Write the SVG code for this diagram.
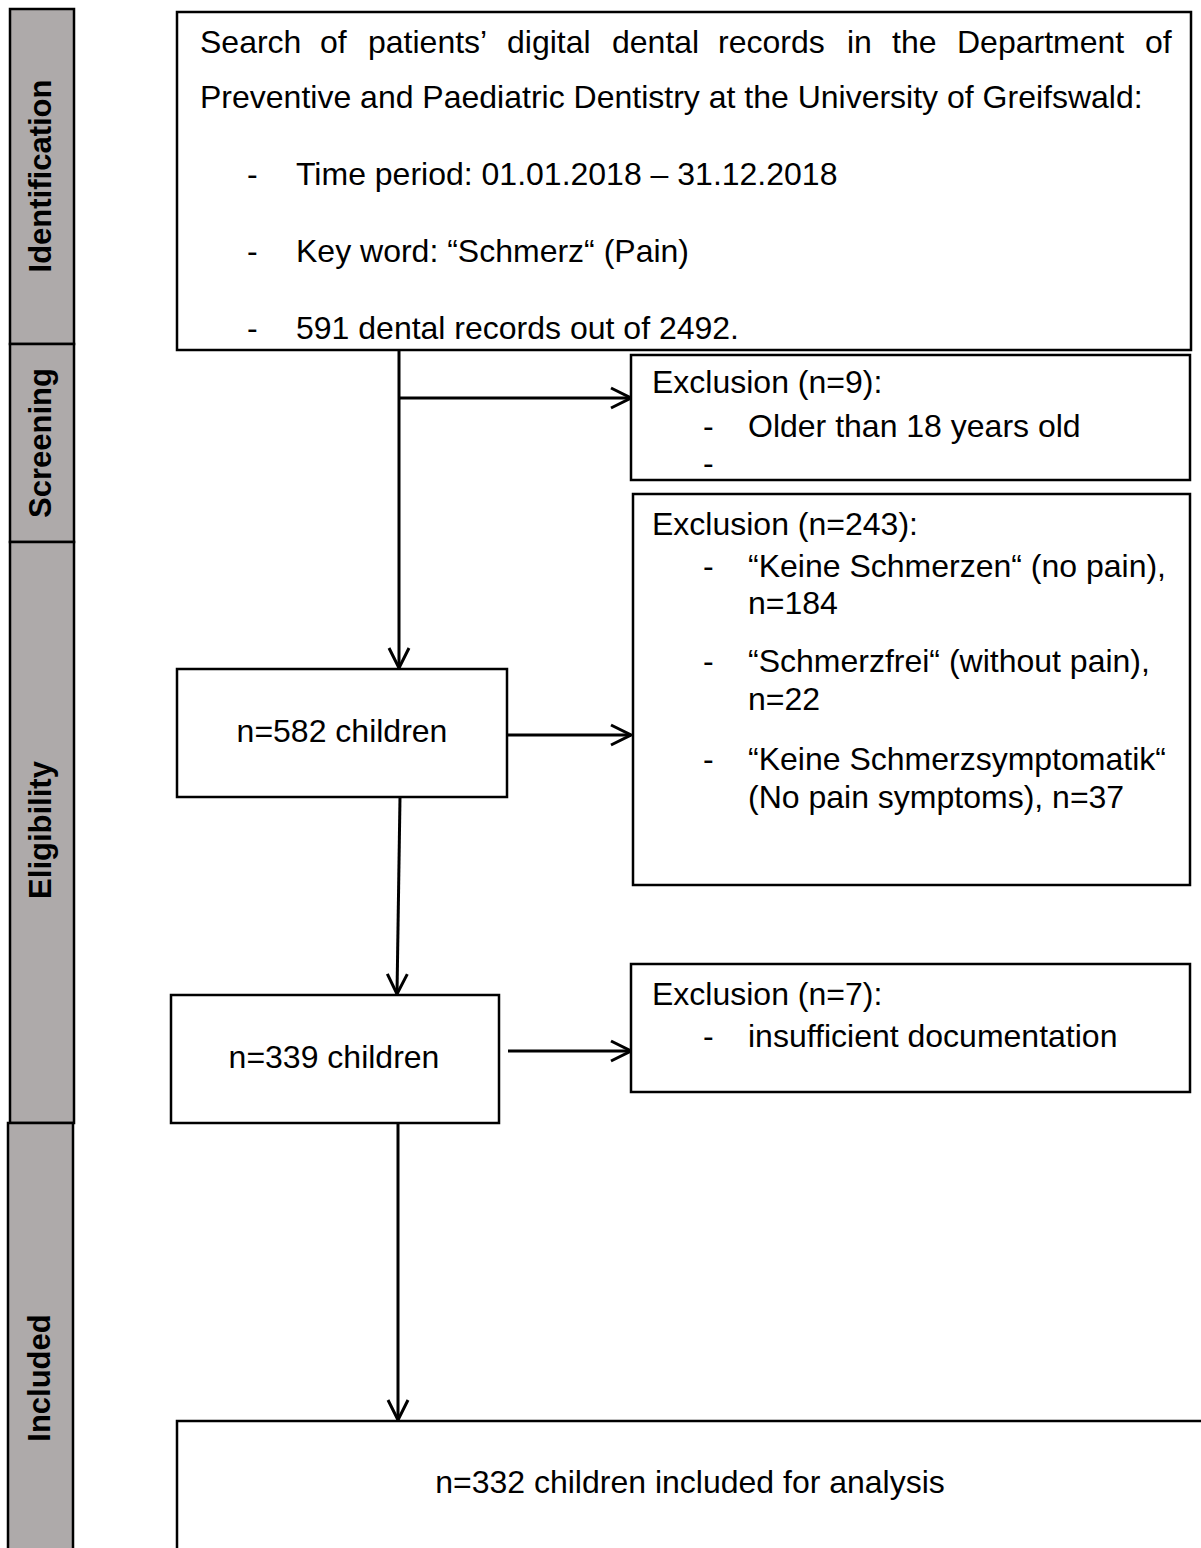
<svg xmlns="http://www.w3.org/2000/svg" width="1201" height="1548" viewBox="0 0 1201 1548">
<defs>
<style>
.bar{fill:#AEAAAA;stroke:#000;stroke-width:2.5}
.box{fill:#fff;stroke:#000;stroke-width:2.5}
.t{font-family:"Liberation Sans",Arial,sans-serif;font-size:32px;fill:#000}
.b{font-family:"Liberation Sans",Arial,sans-serif;font-size:31px;font-weight:bold;fill:#000}
.c{text-anchor:middle}
.ln{fill:none;stroke:#000;stroke-width:3}
</style>
<marker id="arr" viewBox="0 0 24 24" refX="22" refY="12" markerWidth="24" markerHeight="24" markerUnits="userSpaceOnUse" orient="auto">
<path d="M2,2 L22,12 L2,22" fill="none" stroke="#000" stroke-width="3" stroke-linejoin="miter"/>
</marker>
</defs>
<rect width="1201" height="1548" fill="#fff"/>

<g id="stage-identification">
<rect class="bar" x="10" y="9" width="64" height="335"/>
<text class="b c" transform="translate(51,176) rotate(-90)">Identification</text>
</g>
<g id="stage-screening">
<rect class="bar" x="10" y="344" width="64" height="198"/>
<text class="b c" transform="translate(51,443) rotate(-90)">Screening</text>
</g>
<g id="stage-eligibility">
<rect class="bar" x="10" y="542" width="64" height="581"/>
<text class="b c" transform="translate(51,830) rotate(-90)">Eligibility</text>
</g>
<g id="stage-included">
<rect class="bar" x="8" y="1123" width="65" height="440"/>
<text class="b c" transform="translate(50,1378) rotate(-90)">Included</text>
</g>

<g id="connectors">
<path class="ln" d="M399,350 V668" marker-end="url(#arr)"/>
<path class="ln" d="M399,398 H631" marker-end="url(#arr)"/>
<path class="ln" d="M400,797 L397,994" marker-end="url(#arr)"/>
<path class="ln" d="M507,735 H631" marker-end="url(#arr)"/>
<path class="ln" d="M508,1051 H631" marker-end="url(#arr)"/>
<path class="ln" d="M398,1123 V1420" marker-end="url(#arr)"/>
</g>

<g id="node-search">
<rect class="box" x="177" y="12" width="1014" height="338" stroke-width="3"/>
<text class="t" y="53"><tspan x="200">Search </tspan><tspan x="320">of </tspan><tspan x="368">patients’ </tspan><tspan x="507">digital </tspan><tspan x="612">dental </tspan><tspan x="718">records </tspan><tspan x="847">in </tspan><tspan x="892">the </tspan><tspan x="957">Department </tspan><tspan x="1145">of</tspan></text>
<text class="t" x="200" y="108">Preventive and Paediatric Dentistry at the University of Greifswald:</text>
<text class="t" x="247" y="185">-</text>
<text class="t" x="296" y="185">Time period: 01.01.2018 – 31.12.2018</text>
<text class="t" x="247" y="262">-</text>
<text class="t" x="296" y="262">Key word: “Schmerz“ (Pain)</text>
<text class="t" x="247" y="339">-</text>
<text class="t" x="296" y="339">591 dental records out of 2492.</text>
</g>

<g id="node-exclusion-9">
<rect class="box" x="631" y="355" width="559" height="125"/>
<text class="t" x="652" y="393">Exclusion (n=9):</text>
<text class="t" x="703" y="437">-</text>
<text class="t" x="748" y="437">Older than 18 years old</text>
<text class="t" x="703" y="474">-</text>
</g>

<g id="node-exclusion-243">
<rect class="box" x="633" y="494" width="557" height="391"/>
<text class="t" x="652" y="535">Exclusion (n=243):</text>
<text class="t" x="703" y="577">-</text>
<text class="t" x="748" y="577">“Keine Schmerzen“ (no pain),</text>
<text class="t" x="748" y="614">n=184</text>
<text class="t" x="703" y="672">-</text>
<text class="t" x="748" y="672">“Schmerzfrei“ (without pain),</text>
<text class="t" x="748" y="710">n=22</text>
<text class="t" x="703" y="770">-</text>
<text class="t" x="748" y="770">“Keine Schmerzsymptomatik“</text>
<text class="t" x="748" y="808">(No pain symptoms), n=37</text>
</g>

<g id="node-n582">
<rect class="box" x="177" y="669" width="330" height="128"/>
<text class="t c" x="342" y="742">n=582 children</text>
</g>

<g id="node-exclusion-7">
<rect class="box" x="631" y="964" width="559" height="128"/>
<text class="t" x="652" y="1005">Exclusion (n=7):</text>
<text class="t" x="703" y="1047">-</text>
<text class="t" x="748" y="1047">insufficient documentation</text>
</g>

<g id="node-n339">
<rect class="box" x="171" y="995" width="328" height="128"/>
<text class="t c" x="334" y="1068">n=339 children</text>
</g>

<g id="node-included">
<rect class="box" x="177" y="1421" width="1040" height="140"/>
<text class="t c" x="690" y="1493">n=332 children included for analysis</text>
</g>
</svg>
